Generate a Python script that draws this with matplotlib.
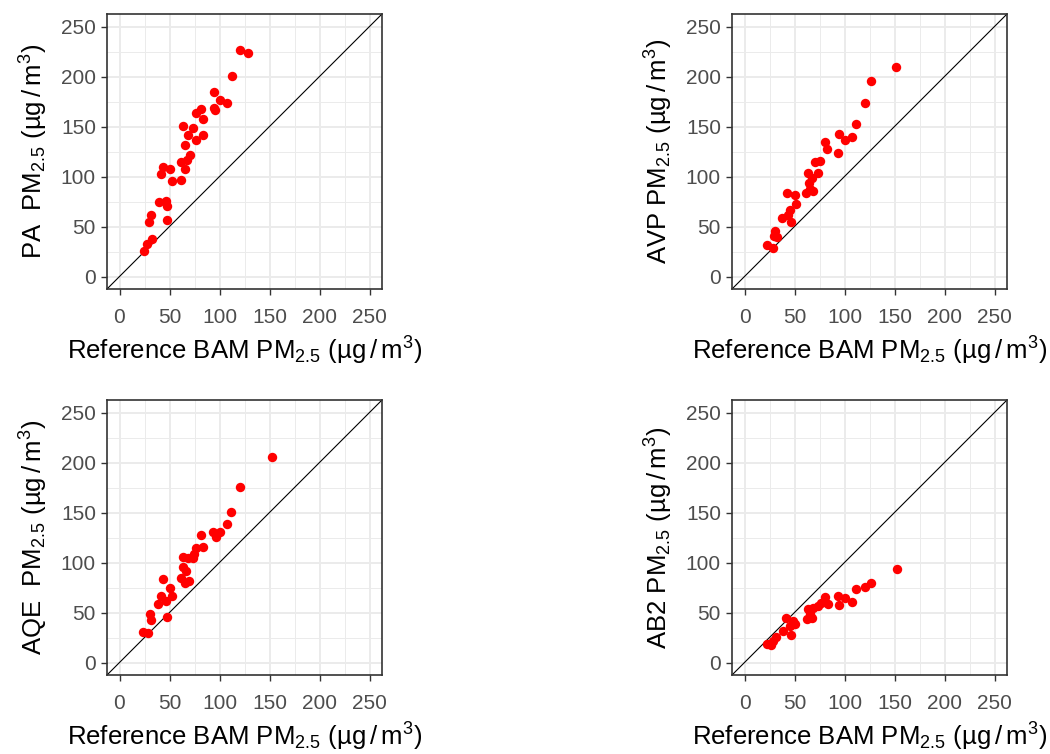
import matplotlib
matplotlib.use("Agg")
import matplotlib.pyplot as plt
import numpy as np

plt.rcParams['font.family'] = ['Liberation Sans', 'DejaVu Sans']
plt.rcParams['mathtext.default'] = 'regular'

# ---- data (reference BAM vs sensor, ug/m3) ----
pa_x = [121, 129, 113, 95, 101, 108, 95, 96, 77, 82, 84, 64, 74, 69, 84, 77, 66,
        71, 68, 62, 66, 44, 51, 42, 53, 62, 40, 47, 48, 32, 30, 48, 33, 28, 25]
pa_y = [226, 223, 200, 184, 176, 173, 168, 166, 163, 167, 157, 150, 148, 141, 141, 136, 131,
        121, 116, 114, 107, 109, 107, 102, 95, 96, 74, 75, 70, 61, 54, 56, 37, 32, 25]

avp_x = [152, 127, 121, 112, 95, 101, 108, 81, 83, 94, 71, 76, 64, 74, 68,
         65, 66, 62, 69, 43, 51, 52, 46, 44, 47, 38, 31, 30, 33, 23, 29]
avp_y = [209, 195, 173, 152, 142, 136, 139, 134, 127, 123, 114, 115, 103, 103, 98,
         93, 87, 83, 85, 83, 81, 72, 66, 61, 54, 58, 45, 40, 39, 31, 28]

aqe_x = [153, 121, 112, 108, 94, 97, 101, 82, 77, 84, 75, 64, 69, 74, 64, 67, 62,
         66, 70, 44, 51, 53, 42, 47, 39, 31, 32, 48, 24, 29]
aqe_y = [205, 175, 150, 138, 130, 125, 130, 127, 114, 115, 108, 105, 104, 104, 95, 91, 84,
         79, 81, 83, 74, 66, 66, 61, 58, 48, 42, 45, 30, 29]

ab2_x = [153, 127, 121, 112, 94, 101, 108, 95, 81, 84, 77, 74, 69, 64, 66, 63, 68,
         42, 49, 51, 46, 39, 47, 32, 29, 23, 27]
ab2_y = [93, 79, 75, 73, 66, 64, 60, 57, 65, 58, 59, 56, 54, 53, 48, 43, 44,
         44, 41, 38, 36, 31, 27, 25, 21, 18, 17]

sensors = ['PA  ', 'AVP ', 'AQE  ', 'AB2 ']
xs = [pa_x, avp_x, aqe_x, ab2_x]
ys = [pa_y, avp_y, aqe_y, ab2_y]
ticks = [0, 50, 100, 150, 200, 250]
minor = [25, 75, 125, 175, 225]

W, H = 1050, 754
fig = plt.figure(figsize=(W / 100, H / 100), dpi=100)

# panel boxes in pixels: left, top, size
boxes = [(107, 14), (732, 14), (107, 400), (732, 400)]
size = 275
unit = ' (µg$\\,$/$\\,$m$^{3}$)'

for i in range(4):
    left, top = boxes[i]
    ax = fig.add_axes([left / W, (H - top - size) / H, size / W, size / H])
    lo, hi = -12.5, 262.5
    ax.set_xlim(lo, hi)
    ax.set_ylim(lo, hi)
    ax.set_xticks(ticks)
    ax.set_yticks(ticks)
    ax.set_xticks(minor, minor=True)
    ax.set_yticks(minor, minor=True)
    ax.grid(True, which='major', color='#EBEBEB', linewidth=1.4, zorder=0)
    ax.grid(True, which='minor', color='#EBEBEB', linewidth=0.7, zorder=0)
    ax.tick_params(which='minor', length=0)
    ax.tick_params(which='major', length=4, width=1, color='#333333',
                   labelcolor='#4D4D4D', labelsize=15)
    ax.tick_params(axis='x', pad=10)
    ax.tick_params(axis='y', pad=4)
    ax.set_axisbelow(True)
    for s in ax.spines.values():
        s.set_color('#333333')
        s.set_linewidth(1.2)
    ax.plot([lo, hi], [lo, hi], color='black', linewidth=0.8, zorder=2)
    ax.scatter(xs[i], ys[i], s=46, color='red', edgecolors='none', zorder=3)
    ax.set_xlabel('Reference BAM PM$_{2.5}$' + unit, fontsize=18.5, color='black', labelpad=5)
    ax.set_ylabel(sensors[i] + 'PM$_{2.5}$' + unit, fontsize=18.5, color='black', labelpad=8)

fig.savefig('out.png', dpi=100)
